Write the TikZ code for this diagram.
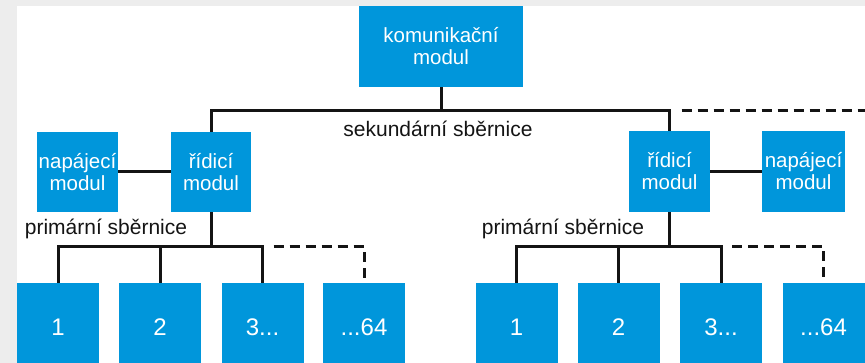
\documentclass[tikz,border=0pt]{standalone}
\usepackage{fontspec}
\setmainfont{Liberation Sans}
\usepackage{xcolor}
\usepackage{tikz}

\definecolor{modblue}{RGB}{0,150,219}
\definecolor{busline}{RGB}{20,20,20}

\begin{document}
\begin{tikzpicture}[x=1pt,y=-1pt,
  modbox/.style={fill=modblue, text=white, align=center, inner sep=0pt,
    font=\fontsize{20.5}{22}\selectfont},
  slotbox/.style={modbox, minimum width=82pt, minimum height=88pt,
    font=\fontsize{24}{26}\selectfont},
  busline/.style={draw=busline, line width=3pt},
  busdash/.style={busline, dash pattern=on 10pt off 6pt},
  buslabel/.style={anchor=base, text=busline, inner sep=0pt,
    font=\fontsize{21}{24}\selectfont}]
\clip (0,0) rectangle (865,363);
\fill[black!7] (0,0) rectangle (865,363);
\fill[white] (17,6) rectangle (865,363);

% moduly nahore
\node[modbox, minimum width=164pt, minimum height=81pt] (kom) at (441,46.5) {komunikační\\modul};
\node[modbox, minimum width=80pt, minimum height=80pt] (rid1) at (211,172) {řídicí\\modul};
\node[modbox, minimum width=81pt, minimum height=80pt] (nap1) at (77.5,172) {napájecí\\modul};
\node[modbox, minimum width=81pt, minimum height=81pt] (rid2) at (669.5,171.5) {řídicí\\modul};
\node[modbox, minimum width=83pt, minimum height=81pt] (nap2) at (803.5,171.5) {napájecí\\modul};

% moduly dole
\foreach \x/\t [count=\i] in {58/1, 160/2, 262.5/{3...}, 364/{...64}}
  \node[slotbox] (a\i) at (\x,327) {\t};
\foreach \x/\t [count=\i] in {516.5/1, 618.5/2, 721/{3...}, 823.5/{...64}}
  \node[slotbox] (b\i) at (\x,327) {\t};

% sekundarni sbernice
\coordinate (sek) at (441,111);
\coordinate (sekend) at (865,111);
\draw[busline] (kom.south) -- (sek);
\draw[busline] (rid1.north) |- (sek) -| (rid2.north);
\draw[busdash] ([xshift=12pt]rid2.north |- sek) -- (sekend);
\node[buslabel] (sektext) at (438,137) {sekundární sběrnice};

\draw[busline] (nap1.east) -- (rid1.west);
\draw[busline] (rid2.east) -- (nap2.west);

% primarni sbernice vlevo
\coordinate (pri1) at (211,247);
\draw[busline] (rid1.south) -- (pri1);
\draw[busline] (a1.north) |- (pri1) -| (a3.north);
\draw[busline] (a2.north) -- (a2.north |- pri1);
\draw[busdash] ([xshift=11pt]a3.north |- pri1) -| (a4.north);
\node[buslabel] (pritext1) at (106,235) {primární sběrnice};

% primarni sbernice vpravo
\coordinate (pri2) at (669.5,247);
\draw[busline] (rid2.south) -- (pri2);
\draw[busline] (b1.north) |- (pri2) -| (b3.north);
\draw[busline] (b2.north) -- (b2.north |- pri2);
\draw[busdash] ([xshift=11pt]b3.north |- pri2) -| (b4.north);
\node[buslabel] (pritext2) at (563,235) {primární sběrnice};
\end{tikzpicture}
\end{document}
